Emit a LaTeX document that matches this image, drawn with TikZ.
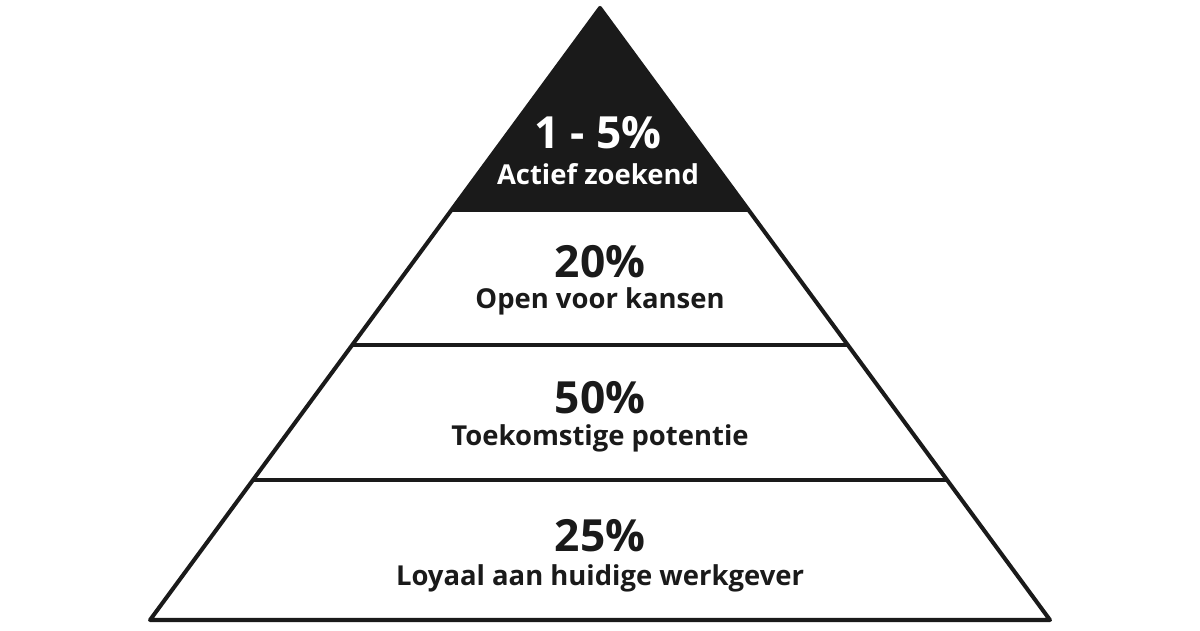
\documentclass[tikz,border=0pt]{standalone}
\usepackage{fontspec}
\setmainfont{Open Sans}
\usepackage{xcolor}
\usepackage{tikz}
\usetikzlibrary{calc}

\definecolor{ink}{HTML}{1A1A1A}

\begin{document}
\begin{tikzpicture}[x=0.01cm,y=-0.01cm,
  pct/.style={font=\bfseries\fontsize{12.6pt}{14pt}\selectfont,text=ink,inner sep=0pt},
  lbl/.style={font=\bfseries\fontsize{7.8pt}{9pt}\selectfont,text=ink,inner sep=0pt}]
  \useasboundingbox[fill=white] (0,0) rectangle (1200,630);
  % corners of the pyramid
  \coordinate (apex) at (600,8);
  \coordinate (bl) at (150,620);
  \coordinate (br) at (1050,620);
  % band boundaries along the sides
  \foreach \t/\n in {0.330/a,0.5507/b,0.7712/c} {
    \coordinate (l\n) at ($(apex)!\t!(bl)$);
    \coordinate (r\n) at ($(apex)!\t!(br)$);
  }
  % black top
  \fill[ink] (apex) -- (la) -- (ra) -- cycle;
  % outline and band lines
  \draw[ink,line width=1.15pt,line join=round] (apex) -- (bl) -- (br) -- cycle;
  \draw[ink,line width=1.15pt] (la) -- (ra);
  \draw[ink,line width=1.15pt] (lb) -- (rb);
  \draw[ink,line width=1.15pt] (lc) -- (rc);
  % labels
  \node[pct,text=white] (top) at (598,133) {1 - 5\%};
  \node[lbl,text=white] (topl) at (598,174) {Actief zoekend};
  \node[pct] (open) at (600,262) {20\%};
  \node[lbl] (openl) at (600,301) {Open voor kansen};
  \node[pct] (fut) at (600,398) {50\%};
  \node[lbl] (futl) at (600,438) {Toekomstige potentie};
  \node[pct] (loy) at (600,536) {25\%};
  \node[lbl] (loyl) at (600,578) {Loyaal aan huidige werkgever};
\end{tikzpicture}
\end{document}
